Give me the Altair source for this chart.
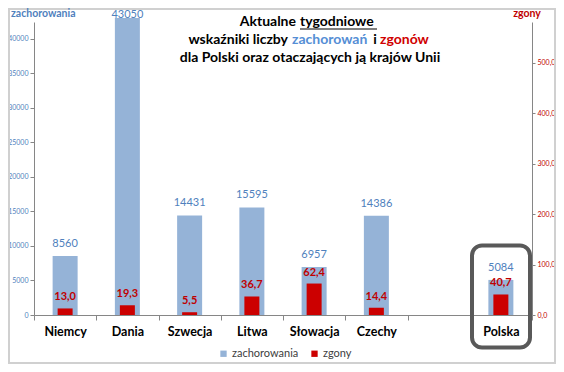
import altair as alt
import pandas as pd

# ---- data ----
countries = ["Niemcy", "Dania", "Szwecja", "Litwa", "Słowacja", "Czechy", "Polska"]
cases = [8560, 43050, 14431, 15595, 6957, 14386, 5084]
deaths = [13.0, 19.3, 5.5, 36.7, 62.4, 14.4, 40.7]
x_order = ["Niemcy", "Dania", "Szwecja", "Litwa", "Słowacja", "Czechy", " ", "Polska"]
left_ticks = [0, 5000, 10000, 15000, 20000, 25000, 30000, 35000, 40000]
right_ticks = [0, 100, 200, 300, 400, 500]
series = ["zachorowania", "zgony"]

df = pd.DataFrame({"kraj": countries, "zach": cases, "zgony": deaths})
one = pd.DataFrame({"a": [0]})

W, H = 498, 293
FONT = "Lato"
BLUE_BAR = "#95B3D7"
BLUE_TXT = "#4F81BD"
RED_BAR = "#CC0000"
RED_TXT = "#C00000"
GRAY = "#868686"

base = alt.Chart(df)

x = alt.X(
    "kraj:N",
    sort=x_order,
    scale=alt.Scale(domain=x_order, paddingInner=0, paddingOuter=0),
    axis=alt.Axis(
        title=None, labelAngle=0, labelFont=FONT, labelFontSize=12.5,
        labelFontWeight="bold", labelColor="black", domainColor=GRAY,
        tickColor=GRAY, tickSize=5, tickBand="extent", labelPadding=5,
    ),
)

left_scale = alt.Scale(domain=[0, 42460], nice=False, zero=True)
right_scale = alt.Scale(domain=[0, 581], nice=False, zero=True)

color = alt.Scale(domain=series, range=[BLUE_BAR, RED_BAR])
legend = alt.Legend(
    title=None, orient="none", legendX=184, legendY=326, direction="horizontal",
    symbolType="square", symbolSize=40, symbolStrokeWidth=0, labelFont=FONT,
    labelFontSize=11, labelColor="#404040", columnPadding=10, labelOffset=3,
    padding=0,
)

blue_bars = base.mark_bar(size=25).encode(
    x=x,
    y=alt.Y("zach:Q", scale=left_scale, axis=alt.Axis(
        orient="left", values=left_ticks, format="d", title=None, grid=False,
        labelColor=BLUE_TXT, labelFontSize=7, labelFont=FONT, domainColor=GRAY,
        tickColor=GRAY, tickSize=4, labelPadding=2)),
    color=alt.Color("s:N", scale=color, legend=legend),
).transform_calculate(s="'zachorowania'")

blue_text = base.mark_text(
    font=FONT, fontSize=11, color=BLUE_TXT, baseline="middle", dy=-12
).encode(
    x=x,
    y=alt.Y("ly:Q", scale=left_scale, axis=None),
    text=alt.Text("zach:Q", format="d"),
).transform_calculate(ly="min(datum.zach, 41800)")

red_bars = base.mark_bar(size=15).encode(
    x=x,
    y=alt.Y("zgony:Q", scale=right_scale, axis=alt.Axis(
        orient="right", values=right_ticks, title=None, grid=False,
        labelExpr="replace(format(datum.value, '.1f'), '.', ',')",
        labelColor=RED_TXT, labelFontSize=7, labelFont=FONT, domainColor=GRAY,
        tickColor=GRAY, tickSize=3, labelPadding=2)),
    color=alt.Color("s:N", scale=color, legend=legend),
).transform_calculate(s="'zgony'")

red_text = base.mark_text(
    font=FONT, fontSize=11, fontWeight="bold", color=RED_TXT, baseline="middle", dy=-11
).encode(
    x=x,
    y=alt.Y("zgony:Q", scale=right_scale, axis=None),
    text="lab:N",
).transform_calculate(lab="replace(format(datum.zgony, '.1f'), '.', ',')")


def label(txt, px, py, col="black", align="center", size=14, weight="bold"):
    return alt.Chart(one).mark_text(
        text=txt, font=FONT, fontSize=size, fontWeight=weight, color=col,
        align=align, baseline="middle",
    ).encode(x=alt.value(px), y=alt.value(py))


title_layers = [
    label("Aktualne", 262, 0, align="right"),
    label("tygodniowe", 266, 0, align="left"),
    label("wskaźniki liczby", 254, 18, align="right"),
    label("zachorowań", 258, 18, col="#558ED5", align="left"),
    label("i", 341, 18, align="center"),
    label("zgonów", 346, 18, col="#D00000", align="left"),
    label("dla Polski oraz otaczających ją krajów Unii", 276, 36),
    label("zachorowania", -23, -8, col=BLUE_TXT, size=10.5, align="left"),
    label("zgony", 493, -8, col=RED_TXT, size=10.5),
]

underline = alt.Chart(one).mark_rule(color="black", strokeWidth=1).encode(
    x=alt.value(266), x2=alt.value(343), y=alt.value(7)
)

polska_box = alt.Chart(one).mark_rect(
    fillOpacity=0, stroke="#595959", strokeWidth=4, cornerRadius=10
).encode(x=alt.value(438), x2=alt.value(496), y=alt.value(223.5), y2=alt.value(325.5))

border = alt.Chart(one).mark_rect(
    fillOpacity=0, stroke="#D0D0D0", strokeWidth=2
).encode(x=alt.value(-25), x2=alt.value(521), y=alt.value(-13), y2=alt.value(341))

chart = alt.layer(
    blue_bars, blue_text, red_bars, red_text, underline, polska_box, border, *title_layers
).resolve_scale(y="independent").properties(
    width=W, height=H,
    padding={"left": 26, "top": 14, "right": 24, "bottom": 49},
    autosize=alt.AutoSizeParams(type="none"),
    background="white",
).configure_view(stroke=None)

chart.save("out.html", embed_options={"renderer": "svg", "actions": False})
